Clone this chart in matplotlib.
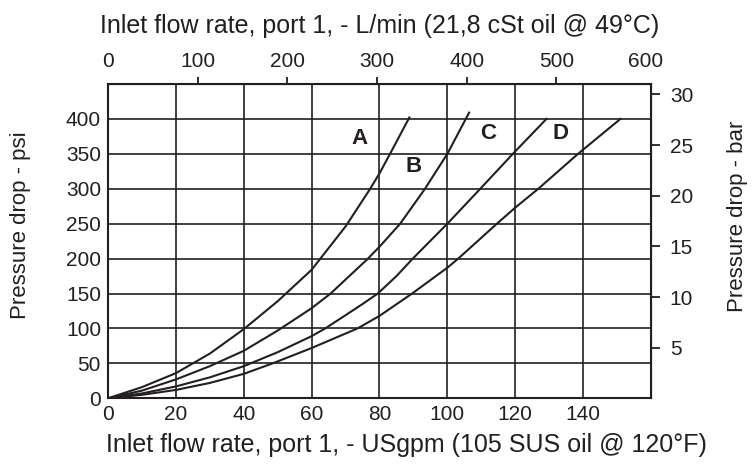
import numpy as np
import matplotlib
matplotlib.use("Agg")
from matplotlib import pyplot as plt

plt.rcParams['font.family'] = ['Liberation Sans', 'DejaVu Sans']

# Curvas (USgpm, psi)
a_gpm = [0, 10, 20, 30, 40, 50, 60, 70, 77, 80, 83, 88.8]
a_psi = [0, 16, 36, 64, 99, 139, 184, 246, 298, 322, 349, 402]

b_gpm = [0, 10, 20, 30, 40, 50, 60, 65.6, 70, 76.4, 80, 86.1, 93.4, 100, 106.4]
b_psi = [0, 11, 27, 46, 68, 97, 129, 150, 170, 199, 217, 250, 300, 350, 409]

c_gpm = [0, 10, 20, 30, 40, 50, 60, 64, 70, 75, 79.5, 85, 89.8, 100, 109.7, 119.3, 129.2]
c_psi = [0, 7, 17, 30, 46, 66, 89, 100, 119, 135, 150, 175, 200, 250, 300, 350, 400]

d_gpm = [0, 10, 20, 30, 40, 48.5, 60, 73.5, 80, 89.6, 100, 103.2, 114.6, 120, 126.8, 138.5, 151]
d_psi = [0, 5, 12, 22, 35, 50, 72, 100, 118, 150, 187, 200, 250, 273, 300, 350, 400]

curvas = ['A', 'B', 'C', 'D']
pos_rotulos = [(74, 372), (90, 332), (112, 379), (133.3, 379)]

gpm_ticks = [0, 20, 40, 60, 80, 100, 120, 140]
psi_ticks = [0, 50, 100, 150, 200, 250, 300, 350, 400]
lmin_ticks = [0, 100, 200, 300, 400, 500, 600]
bar_ticks = [5, 10, 15, 20, 25, 30]

cor = '#231f20'
fs = 15
fs_tit = 18
fs_ylab = 16

fig = plt.figure(figsize=(7.54, 4.65), dpi=100)
ax = fig.add_axes([0.1432, 0.1434, 0.7202, 0.676])

for x, y in [(a_gpm, a_psi), (b_gpm, b_psi), (c_gpm, c_psi), (d_gpm, d_psi)]:
    ax.plot(x, y, color=cor, lw=1.5, zorder=3, solid_joinstyle='round')

for nome, (px, py) in zip(curvas, pos_rotulos):
    ax.text(px, py, nome, fontsize=16, fontweight='bold', color=cor,
            ha='center', va='center')

ax.set_xlim(0, 160)
ax.set_ylim(0, 450)
ax.set_xticks(gpm_ticks)
ax.set_yticks(psi_ticks)
ax.grid(True, color=cor, lw=1.2, zorder=0)
ax.tick_params(length=0, labelsize=fs, colors=cor, pad=5)
for s in ax.spines.values():
    s.set_color(cor)
    s.set_linewidth(1.5)

ax.set_xlabel("Inlet flow rate, port 1, - USgpm (105 SUS oil @ 120°F)",
              fontsize=fs_tit, color=cor)
ax.xaxis.set_label_coords(0.55, -0.11)
ax.set_ylabel("Pressure drop - psi", fontsize=fs_ylab, color=cor)
ax.yaxis.set_label_coords(-0.142, 0.55)

# Eixo superior em L/min
topo = ax.secondary_xaxis('top', functions=(lambda g: g * 3.785, lambda l: l / 3.785))
topo.set_xticks(lmin_ticks)
topo.tick_params(direction='out', length=5, width=1.3, colors=cor, labelsize=fs, pad=4)
ticks_topo = topo.xaxis.get_major_ticks()
for t in (ticks_topo[0], ticks_topo[-1]):
    t.tick1line.set_visible(False)
    t.tick2line.set_visible(False)
topo.set_xlabel("Inlet flow rate, port 1, - L/min (21,8 cSt oil @ 49°C)",
                fontsize=fs_tit, color=cor, labelpad=14)

# Eixo direito em bar
direita = ax.secondary_yaxis('right', functions=(lambda p: p / 14.5038, lambda b: b * 14.5038))
direita.set_yticks(bar_ticks)
direita.tick_params(direction='out', length=6.5, width=1.3, colors=cor, labelsize=fs, pad=7)
direita.set_ylabel("Pressure drop - bar", fontsize=fs_ylab, color=cor)
direita.yaxis.set_label_coords(1.14, 0.58, transform=ax.transAxes)

fig.savefig("out.png", dpi=100)
